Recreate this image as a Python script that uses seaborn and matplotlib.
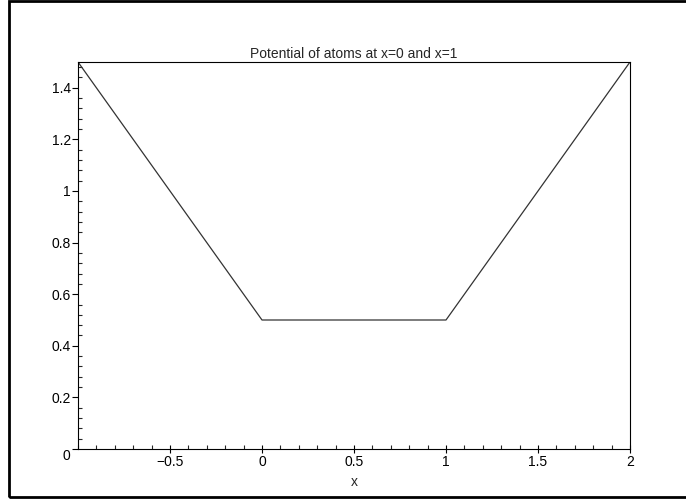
import numpy as np
import pandas as pd
import seaborn as sns
from matplotlib import pyplot as plt
from matplotlib.patches import Rectangle
from matplotlib.ticker import MultipleLocator, FixedLocator
from matplotlib.transforms import ScaledTranslation

# potential values at the corner points
x_vals = [-1.0, 0.0, 1.0, 2.0]
v_vals = [1.5, 0.5, 0.5, 1.5]
x_tick_vals = [-0.5, 0, 0.5, 1, 1.5, 2]
x_tick_labels = ['\u22120.5', '0', '0.5', '1', '1.5', '2']
y_tick_vals = [0, 0.2, 0.4, 0.6, 0.8, 1, 1.2, 1.4]
y_tick_labels = ['0', '0.2', '0.4', '0.6', '0.8', '1', '1.2', '1.4']

if __name__ == '__main__':
    sns.set_style('white')
    plt.rcParams['font.family'] = ['Liberation Sans', 'DejaVu Sans']

    data = pd.DataFrame({'x': x_vals, 'V': v_vals})

    fig = plt.figure(figsize=(6.86, 5), dpi=100)
    ax = fig.add_axes([78 / 686, 51 / 500, 552 / 686, 387 / 500])
    sns.lineplot(data=data, x='x', y='V', ax=ax, color='#333333', linewidth=0.9,
                 sort=False)

    ax.set_xlim(-1, 2)
    ax.set_ylim(0, 1.5)
    ax.xaxis.set_major_locator(FixedLocator(x_tick_vals))
    ax.set_xticklabels(x_tick_labels)
    ax.xaxis.set_minor_locator(MultipleLocator(0.1))
    ax.yaxis.set_major_locator(FixedLocator(y_tick_vals))
    ax.set_yticklabels(y_tick_labels)
    ax.yaxis.set_minor_locator(MultipleLocator(0.04))

    ax.tick_params(axis='both', which='major', direction='inout', length=6, width=0.8,
                   labelsize=10, colors='black', pad=1, bottom=True, left=True)
    ax.tick_params(axis='both', which='minor', direction='in', length=3, width=0.8,
                   bottom=True, left=True)
    ax.tick_params(axis='y', which='major', direction='out', length=4, pad=1)
    for s in ax.spines.values():
        s.set_color('black')
        s.set_linewidth(0.8)

    # the zero label sits a little below the corner
    lab0 = ax.get_yticklabels()[0]
    lab0.set_transform(lab0.get_transform() + ScaledTranslation(-1 / 100, -5 / 100, fig.dpi_scale_trans))

    ax.set_xlabel('x', fontsize=10, labelpad=5)
    ax.set_ylabel('')
    ax.set_title('Potential of atoms at x=0 and x=1', fontsize=10, pad=3)

    # outer frame
    fig.add_artist(Rectangle((9 / 686, 3 / 500), 1.0, 496 / 500, transform=fig.transFigure,
                             fill=False, edgecolor='black', linewidth=2))

    fig.savefig('out.png', dpi=100)
